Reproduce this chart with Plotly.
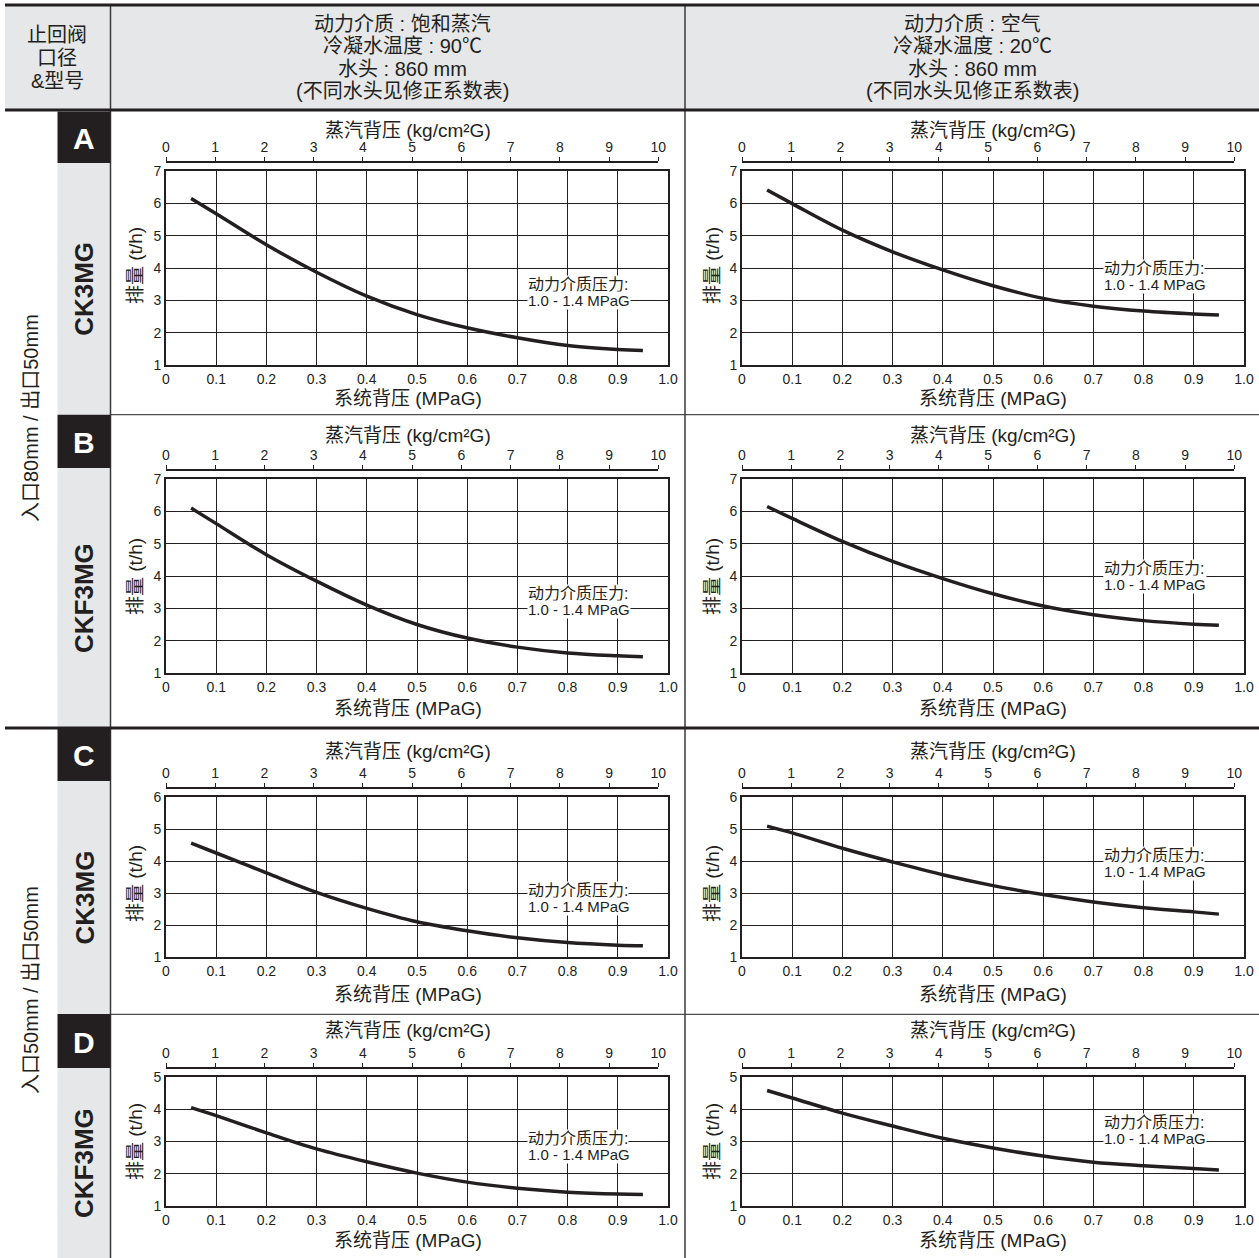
import plotly.graph_objects as go

W, H = 1259, 1258
FONT = "Liberation Sans, Noto Sans CJK SC, sans-serif"
INK = "#231f20"
GRAY = "#e6e7e8"

# ---------------- data ----------------
system_backpressure_mpa = [0.05, 0.1, 0.2, 0.3, 0.4, 0.5, 0.6, 0.7, 0.8, 0.9, 0.95]

flow_A_steam = [6.15, 5.68, 4.72, 3.87, 3.13, 2.56, 2.15, 1.84, 1.60, 1.48, 1.45]
flow_A_air = [6.41, 5.99, 5.17, 4.50, 3.94, 3.45, 3.06, 2.82, 2.67, 2.58, 2.55]
flow_B_steam = [6.10, 5.62, 4.66, 3.84, 3.10, 2.50, 2.08, 1.80, 1.62, 1.53, 1.50]
flow_B_air = [6.15, 5.78, 5.07, 4.45, 3.92, 3.45, 3.07, 2.80, 2.62, 2.51, 2.48]
flow_C_steam = [4.56, 4.25, 3.63, 3.02, 2.52, 2.10, 1.82, 1.60, 1.45, 1.37, 1.35]
flow_C_air = [5.09, 4.88, 4.40, 3.97, 3.57, 3.23, 2.95, 2.72, 2.54, 2.41, 2.34]
flow_D_steam = [4.05, 3.80, 3.27, 2.77, 2.37, 2.02, 1.74, 1.55, 1.43, 1.37, 1.36]
flow_D_air = [4.58, 4.35, 3.88, 3.48, 3.10, 2.80, 2.55, 2.36, 2.25, 2.16, 2.12]

mpa_tickvals = [0, 0.1, 0.2, 0.3, 0.4, 0.5, 0.6, 0.7, 0.8, 0.9, 1.0]
mpa_ticktext = ["0", "0.1", "0.2", "0.3", "0.4", "0.5", "0.6", "0.7", "0.8", "0.9", "1.0"]
kg_tickvals = [0, 1, 2, 3, 4, 5, 6, 7, 8, 9, 10]
KG_TO_MPA = 0.0980665

row_letters = ["A", "B", "C", "D"]
row_models = ["CK3MG", "CKF3MG", "CK3MG", "CKF3MG"]
row_ymax = [7, 7, 6, 5]
row_steam = [flow_A_steam, flow_B_steam, flow_C_steam, flow_D_steam]
row_air = [flow_A_air, flow_B_air, flow_C_air, flow_D_air]
note_y_steam = [3.24, 3.21, 2.84, 2.86]
note_y_air = [3.75, 3.97, 3.91, 3.33]
note_x = 0.719

header_steam = ["动力介质 : 饱和蒸汽", "冷凝水温度 : 90℃", "水头 : 860 mm", "(不同水头见修正系数表)"]
header_air = ["动力介质 : 空气", "冷凝水温度 : 20℃", "水头 : 860 mm", "(不同水头见修正系数表)"]
header_left = ["止回阀", "口径", "&型号"]
size_labels = ["入口80mm / 出口50mm", "入口50mm / 出口50mm"]
top_title = "蒸汽背压 (kg/cm²G)"
bottom_title = "系统背压 (MPaG)"
y_title = "排量 (t/h)"
note_line1 = "动力介质压力:"
note_line2 = "1.0 - 1.4 MPaG"

# ---------------- layout geometry (pixels) ----------------
cols_px = [(166, 668), (742, 1244)]
rows_px = [(171, 365), (479, 673), (797, 957), (1077, 1206)]
top_title_y = [131, 435, 751, 1030]
bottom_title_y = [398, 708, 995, 1240]
top_title_x = [408, 993]
ytitle_x = [135, 712]
ytitle_y = [266, 577, 884, 1142]
box_px = [(111.5, 163), (414.7, 468), (728, 781), (1014, 1068)]
band_end = [414.7, 728, 1014, 1258]


def PX(x):
    return x / W


def PY(y):
    return 1 - y / H


def label(text, x, y, size, color=INK, angle=0, family=FONT):
    return dict(text=text, x=PX(x), y=PY(y), xref="paper", yref="paper", showarrow=False,
                xanchor="center", yanchor="middle", textangle=angle,
                font=dict(size=size, color=color, family=family))


fig = go.Figure()
layout = {}
annotations = []
shapes = []

n = 0
for r in range(4):
    top, bot = rows_px[r]
    for c in range(2):
        x0, x1 = cols_px[c]
        main = 2 * n + 1
        topax = 2 * n + 2
        xm = "x" if main == 1 else f"x{main}"
        ym = "y" if main == 1 else f"y{main}"
        xt = f"x{topax}"
        yt = f"y{topax}"
        xkey = "xaxis" if main == 1 else f"xaxis{main}"
        ykey = "yaxis" if main == 1 else f"yaxis{main}"
        ydom = [PY(bot), PY(top)]
        layout[xkey] = dict(
            domain=[PX(x0), PX(x1)], range=[0, 1], anchor=ym, automargin=False,
            tickvals=mpa_tickvals, ticktext=mpa_ticktext, ticks="",
            showgrid=True, gridcolor=INK, gridwidth=1.2, zeroline=False,
            showline=True, mirror=True, linecolor=INK, linewidth=1.6,
            tickfont=dict(size=14, color=INK, family=FONT), fixedrange=True,
        )
        layout[ykey] = dict(
            domain=ydom, range=[1, row_ymax[r]], anchor=xm, tick0=1, dtick=1, ticks="",
            automargin=False,
            showgrid=True, gridcolor=INK, gridwidth=1.2, zeroline=False,
            showline=True, mirror=True, linecolor=INK, linewidth=1.6,
            tickfont=dict(size=14, color=INK, family=FONT), fixedrange=True,
        )
        top_end = x0 + (10 * KG_TO_MPA) * (x1 - x0)
        layout[f"xaxis{topax}"] = dict(
            domain=[PX(x0), PX(top_end)], range=[0, 10], anchor="free", automargin=False,
            position=PY(top - 9), side="top", tickvals=kg_tickvals,
            ticks="outside", ticklen=4, tickwidth=1.2, tickcolor=INK,
            showline=True, linecolor=INK, linewidth=1.5, showgrid=False, zeroline=False,
            tickfont=dict(size=14, color=INK, family=FONT), fixedrange=True,
        )
        layout[f"yaxis{topax}"] = dict(domain=ydom, range=[0, 1], anchor=xt, visible=False,
                                       automargin=False, fixedrange=True)
        fig.add_trace(go.Scatter(x=[0, 10], y=[0, 0], mode="markers", marker=dict(opacity=0),
                                 xaxis=xt, yaxis=yt, hoverinfo="skip", showlegend=False))
        vals = row_steam[r] if c == 0 else row_air[r]
        fig.add_trace(go.Scatter(x=system_backpressure_mpa, y=vals, mode="lines",
                                 line=dict(color=INK, width=3.5, shape="spline", smoothing=1.0),
                                 xaxis=xm, yaxis=ym, showlegend=False, hoverinfo="skip"))
        annotations.append(label(top_title, top_title_x[c], top_title_y[r], 19))
        annotations.append(label(bottom_title, top_title_x[c], bottom_title_y[r], 19))
        annotations.append(label(y_title, ytitle_x[c], ytitle_y[r], 19, angle=-90))
        ny = note_y_steam[r] if c == 0 else note_y_air[r]
        annotations.append(dict(text=note_line1, x=note_x, y=ny, xref=xm, yref=ym,
                                xanchor="left", yanchor="middle", yshift=8, showarrow=False,
                                bgcolor="white", borderpad=0,
                                font=dict(size=16, color=INK, family=FONT)))
        annotations.append(dict(text=note_line2, x=note_x, y=ny, xref=xm, yref=ym,
                                xanchor="left", yanchor="middle", yshift=-8, showarrow=False,
                                bgcolor="white", borderpad=0,
                                font=dict(size=15, color=INK, family=FONT)))
        n += 1


def rect(x0, y0, x1, y1, color, layer="below"):
    return dict(type="rect", xref="paper", yref="paper", x0=PX(x0), x1=PX(x1), y0=PY(y1), y1=PY(y0),
                fillcolor=color, line=dict(width=0), layer=layer)


def hline(y, x0, x1, w, color=INK):
    return dict(type="line", xref="paper", yref="paper", x0=PX(x0), x1=PX(x1), y0=PY(y), y1=PY(y),
                line=dict(color=color, width=w), layer="above")


def vline(x, y0, y1, w, color=INK):
    return dict(type="line", xref="paper", yref="paper", x0=PX(x), x1=PX(x), y0=PY(y0), y1=PY(y1),
                line=dict(color=color, width=w), layer="above")


shapes.append(rect(5, 5, 1259, 110, GRAY))
for r in range(4):
    shapes.append(rect(57.5, box_px[r][1], 110.5, band_end[r], GRAY))
shapes.append(hline(414.7, 110, 1259, 1.3, "#4d4d4d"))
shapes.append(hline(1014.3, 110, 1259, 1.3, "#4d4d4d"))
shapes.append(vline(110.5, 5, 1258, 1.5, "#3a3a3a"))
shapes.append(vline(685, 5, 1258, 1.5, "#3a3a3a"))
shapes.append(hline(5, 5, 1259, 3))
shapes.append(hline(110, 5, 1259, 3))
shapes.append(hline(728, 5, 1259, 3))
for r in range(4):
    b = box_px[r]
    shapes.append(rect(57.5, b[0], 110.5, b[1], INK, layer="above"))
    annotations.append(label(f"<b>{row_letters[r]}</b>", 84, (b[0] + b[1]) / 2 + 1, 30,
                             color="white", family="Liberation Sans, sans-serif"))
    annotations.append(label(f"<b>{row_models[r]}</b>", 84, (b[1] + band_end[r]) / 2, 26,
                             angle=-90, family="Liberation Sans, sans-serif"))

for i, t in enumerate(header_left):
    annotations.append(label(t, 57, 35 + 23 * i, 20))
for i in range(4):
    annotations.append(label(header_steam[i], 403, 24 + 22.3 * i, 20))
    annotations.append(label(header_air[i], 972, 24 + 22.3 * i, 20))

annotations.append(label(size_labels[0], 31, 418, 20, angle=-90))
annotations.append(label(size_labels[1], 31, 990, 20, angle=-90))

fig.update_layout(
    width=W, height=H, margin=dict(l=0, r=0, t=0, b=0, autoexpand=False),
    paper_bgcolor="white", plot_bgcolor="rgba(0,0,0,0)",
    font=dict(family=FONT, color=INK),
    showlegend=False, annotations=annotations, shapes=shapes, **layout,
)

fig.write_html("out.html", config={"displayModeBar": False},
               post_script="document.body.style.margin='0';")
